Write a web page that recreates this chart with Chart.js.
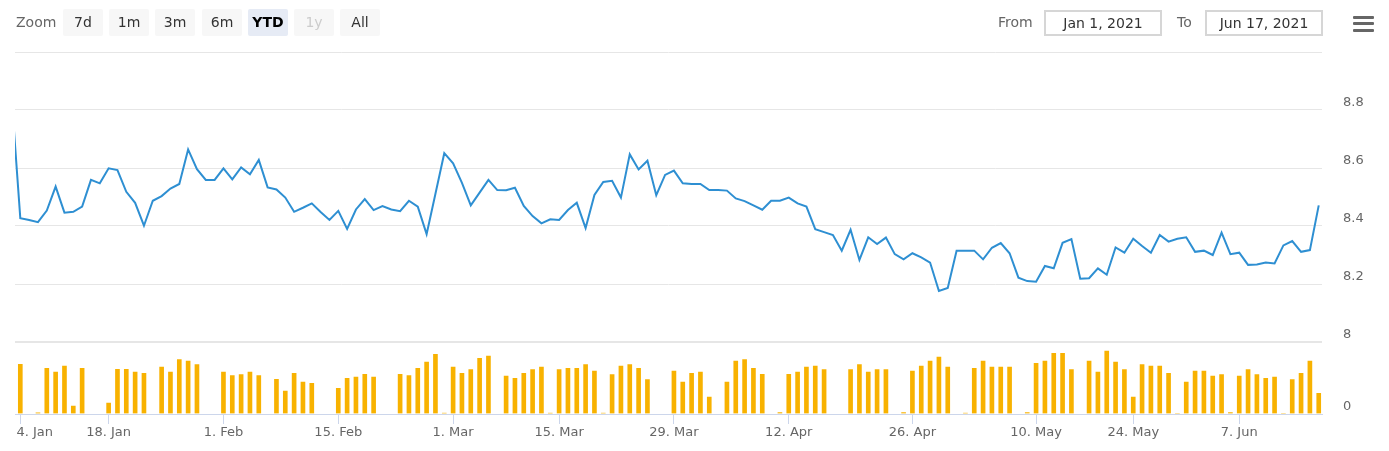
<!DOCTYPE html>
<html>
<head>
<meta charset="utf-8">
<title>Price and volume, YTD 2021</title>
<script src="https://cdn.jsdelivr.net/npm/chart.js@4.4.1/dist/chart.umd.min.js"></script>
<style>
  body { margin: 0; background: #fff; font-family: 'DejaVu Sans', Verdana, sans-serif; }
  #wrap { position: relative; width: 1389px; height: 451px; overflow: hidden; }
  #chart { position: absolute; left: 0; top: 0; }
  .lbl { position: absolute; top: 12px; font-size: 14px; line-height: 20px; color: #666; }
  .btn { position: absolute; top: 9px; width: 40px; height: 27px; line-height: 27px; text-align: center;
         font-size: 14px; color: #333; background: #f7f7f7; border-radius: 2px; }
  .btn.on { background: #e6ebf5; color: #000; font-weight: bold; }
  .btn.off { color: #ccc; }
  .date { position: absolute; top: 10px; width: 114px; height: 22px; line-height: 22px; border: 2px solid #d6d6d6;
          text-align: center; font-size: 14px; color: #333; }
  .menu span { position: absolute; left: 1353px; width: 21px; height: 3px; background: #666; border-radius: 1px; }
</style>
</head>
<body>
<div id="wrap">
  <canvas id="chart" width="1389" height="451"></canvas>

  <span class="lbl" style="left:16px">Zoom</span>
  <div class="btn" style="left:63px">7d</div>
  <div class="btn" style="left:109px">1m</div>
  <div class="btn" style="left:155px">3m</div>
  <div class="btn" style="left:202px">6m</div>
  <div class="btn on" style="left:248px">YTD</div>
  <div class="btn off" style="left:294px">1y</div>
  <div class="btn" style="left:340px">All</div>

  <span class="lbl" style="left:998px">From</span>
  <div class="date" style="left:1044px">Jan 1, 2021</div>
  <span class="lbl" style="left:1177px">To</span>
  <div class="date" style="left:1205px">Jun 17, 2021</div>

  <div class="menu">
    <span style="top:16px"></span>
    <span style="top:22px"></span>
    <span style="top:29px"></span>
  </div>
</div>

<script>
// one value per trading slot; the first one sits just before the YTD window
const firstSlot = -1;

const price = [
  8.85,
  8.427, 8.421, 8.413, 8.453, 8.536, 8.446, 8.449, 8.467, 8.559, 8.547,
  8.599, 8.593, 8.518, 8.480, 8.401, 8.487, 8.503, 8.529, 8.545, 8.664,
  8.596, 8.559, 8.559, 8.599, 8.561, 8.602, 8.578, 8.628, 8.533, 8.526,
  8.498, 8.449, 8.463, 8.478, 8.448, 8.421, 8.452, 8.390, 8.457, 8.493,
  8.455, 8.469, 8.457, 8.451, 8.487, 8.467, 8.372, 8.511, 8.651, 8.616,
  8.549, 8.471, 8.515, 8.559, 8.524, 8.523, 8.532, 8.469, 8.434, 8.409,
  8.423, 8.421, 8.455, 8.480, 8.393, 8.507, 8.552, 8.556, 8.498, 8.647,
  8.595, 8.625, 8.506, 8.576, 8.591, 8.547, 8.545, 8.545, 8.524, 8.524,
  8.522, 8.495, 8.486, 8.471, 8.456, 8.487, 8.487, 8.498, 8.478, 8.467,
  8.389, 8.379, 8.369, 8.315, 8.387, 8.283, 8.361, 8.338, 8.360, 8.303,
  8.285, 8.306, 8.292, 8.274, 8.176, 8.186, 8.315, 8.315, 8.315, 8.285,
  8.325, 8.341, 8.306, 8.222, 8.210, 8.208, 8.262, 8.254, 8.342, 8.355,
  8.218, 8.220, 8.254, 8.232, 8.326, 8.308, 8.356, 8.331, 8.308, 8.369,
  8.346, 8.356, 8.361, 8.311, 8.315, 8.300, 8.377, 8.303, 8.308, 8.266,
  8.267, 8.274, 8.271, 8.333, 8.348, 8.311, 8.317, 8.471
];

const volume = [
  null,
  5.63, null, 0.2, 5.19, 4.78, 5.44, 1.0, 5.19, null, null,
  1.33, 5.07, 5.07, 4.78, 4.63, null, 5.33, 4.78, 6.15, 6.0,
  5.59, null, null, 4.78, 4.37, 4.48, 4.78, 4.37, null, 3.96,
  2.67, 4.63, 3.67, 3.52, null, null, 2.96, 4.07, 4.22, 4.52,
  4.22, null, null, 4.52, 4.37, 5.19, 5.89, 6.74, 0.15, 5.33,
  4.63, 5.04, 6.3, 6.56, null, 4.33, 4.07, 4.63, 5.04, 5.33,
  0.15, 5.04, 5.19, 5.19, 5.59, 4.89, 0.15, 4.48, 5.44, 5.59,
  5.19, 3.93, null, null, 4.89, 3.67, 4.63, 4.78, 2.0, null,
  3.67, 6.0, 6.15, 5.19, 4.52, null, 0.26, 4.52, 4.78, 5.33,
  5.44, 5.04, null, null, 5.04, 5.59, 4.78, 5.04, 5.04, null,
  0.26, 4.89, 5.44, 6.0, 6.44, 5.33, null, 0.15, 5.19, 6.0,
  5.33, 5.33, 5.33, null, 0.26, 5.74, 6.0, 6.85, 6.85, 5.04,
  null, 6.0, 4.78, 7.11, 5.89, 5.04, 2.0, 5.59, 5.44, 5.44,
  4.63, 0.1, 3.67, 4.89, 4.89, 4.33, 4.48, 0.26, 4.33, 5.04,
  4.48, 4.07, 4.22, 0.1, 3.93, 4.63, 6.0, 2.41
];

// x-axis labels and the slot each one sits on
const tickLabels = ['4. Jan', '18. Jan', '1. Feb', '15. Feb', '1. Mar', '15. Mar',
  '29. Mar', '12. Apr', '26. Apr', '10. May', '24. May', '7. Jun'];
const tickSlots = [0, 10, 23, 36, 49, 61, 74, 87, 101, 115, 126, 138];

const priceTicks = [8, 8.2, 8.4, 8.6, 8.8, 9];
const volumeTicks = [0, 8];

Chart.defaults.font.family = "'DejaVu Sans', Verdana, sans-serif";
Chart.defaults.font.size = 13;
Chart.defaults.color = '#666';

const toPoints = (arr) => arr.map((v, k) => ({ x: k + firstSlot, y: v }));

new Chart(document.getElementById('chart'), {
  data: {
    datasets: [
      {
        type: 'line',
        label: 'Price',
        data: toPoints(price),
        yAxisID: 'y',
        borderColor: '#2e8fd2',
        borderWidth: 2,
        pointRadius: 0,
        tension: 0,
      },
      {
        type: 'bar',
        label: 'Volume',
        data: toPoints(volume),
        yAxisID: 'vol',
        backgroundColor: '#f8b200',
        borderColor: 'rgba(255,255,255,0.45)',
        borderWidth: 1,
        borderSkipped: 'bottom',
        barThickness: 6,
      },
    ],
  },
  options: {
    responsive: false,
    animation: false,
    events: [],
    layout: { padding: { left: 15, top: 52, right: 0, bottom: 0 } },
    plugins: { legend: { display: false }, tooltip: { enabled: false } },
    scales: {
      x: {
        type: 'linear',
        offset: false,
        min: -0.6,
        max: 147.37,
        afterBuildTicks: (s) => { s.ticks = tickSlots.map((v) => ({ value: v })); },
        afterFit: (s) => { s.height = 37; s.paddingLeft = 0; s.paddingRight = 0; },
        ticks: {
          autoSkip: false,
          maxRotation: 0,
          padding: 1,
          color: '#666',
          // first label is pushed right so it starts at the plot edge
          callback: (v) => {
            const k = tickSlots.indexOf(v);
            return k === 0 ? '       ' + tickLabels[k] : tickLabels[k];
          },
        },
        grid: { offset: false, drawOnChartArea: false, drawTicks: true, tickLength: 10, color: '#ccd6eb' },
        border: { display: true, color: '#ccd6eb' },
      },
      y: {
        position: 'right',
        stack: 'panes',
        stackWeight: 290,
        min: 8,
        max: 9,
        afterBuildTicks: (s) => { s.ticks = priceTicks.map((v) => ({ value: v })); },
        afterFit: (s) => { s.width = 67; s.paddingTop = 0; s.paddingBottom = 0; },
        ticks: {
          crossAlign: 'near',
          padding: 21,
          labelOffset: -7,
          callback: (v) => (v >= 9 ? '' : v === 8 ? '8' : v.toFixed(1)),
        },
        grid: { color: '#e6e6e6', drawTicks: false },
        border: { display: false },
      },
      vol: {
        position: 'right',
        stack: 'panes',
        stackWeight: 72,
        min: 0,
        max: 8,
        afterBuildTicks: (s) => { s.ticks = volumeTicks.map((v) => ({ value: v })); },
        afterFit: (s) => { s.width = 67; s.paddingTop = 0; s.paddingBottom = 0; },
        ticks: {
          crossAlign: 'near',
          padding: 21,
          labelOffset: -7,
          callback: (v) => (v === 0 ? '0' : ''),
        },
        grid: { color: '#e6e6e6', drawTicks: false, lineWidth: (c) => (c.tick && c.tick.value === 8 ? 2 : 1) },
        border: { display: false },
      },
    },
  },
});
</script>
</body>
</html>
